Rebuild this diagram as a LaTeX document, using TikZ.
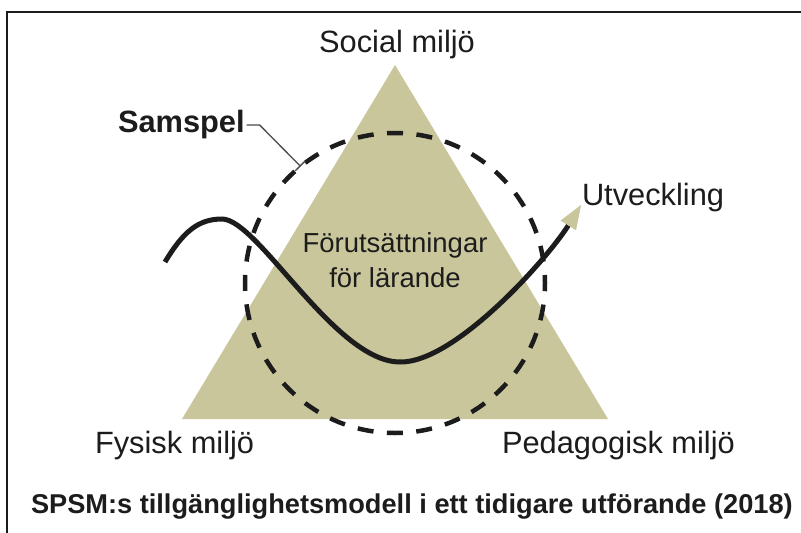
\documentclass[tikz,border=0pt]{standalone}
\usepackage{fontspec}
\setmainfont{Liberation Sans}
\usetikzlibrary{arrows.meta}
\definecolor{khaki}{RGB}{201,198,156}
\definecolor{ink}{RGB}{28,28,28}
\begin{document}
\begin{tikzpicture}[x=1pt,y=-1pt,
  lbl/.style={inner sep=0pt, outer sep=0pt, text=ink, font=\fontsize{30.8}{36}\selectfont},
  inner/.style={inner sep=0pt, outer sep=0pt, text=ink, font=\fontsize{27.5}{33}\selectfont},
  captxt/.style={inner sep=0pt, outer sep=0pt, text=ink, font=\fontsize{27.2}{32}\selectfont\bfseries},
  ringstyle/.style={circle, draw=ink, line width=4.5pt, minimum size=300pt, inner sep=0pt, outer sep=0pt,
     dash pattern=on 16pt off 13.45pt, dash phase=8pt},
  leader/.style={draw=ink!80, line width=1.3pt, -{Bar[width=14pt, line width=1.3pt]}},
  wave/.style={draw=ink, line width=5pt, line cap=butt,
     -{Triangle[length=24pt, width=18pt, color=khaki, line width=0.5pt]}}]
\useasboundingbox (0,0) rectangle (801,533);
\fill[white] (0,0) rectangle (801,533);
% frame
\draw[ink, line width=2pt] (7,534) -- (7,12) -- (802,12);
% triangle
\fill[khaki] (395,65) -- (182,419) -- (608,419) -- cycle;
% labels
\node[lbl, anchor=base] (social) at (397,52) {Social miljö};
\node[lbl, anchor=base west, font=\fontsize{30.8}{36}\selectfont\bfseries] (samspel) at (118,132) {Samspel};
\node[lbl, anchor=base west] (utv) at (582,205) {Utveckling};
\node[inner, anchor=base] (forut) at (395,252) {Förutsättningar};
\node[inner, anchor=base] (forlar) at (395,287) {för lärande};
\node[lbl, anchor=base west] (fysisk) at (95,453) {Fysisk miljö};
\node[lbl, anchor=base west] (ped) at (502,453) {Pedagogisk miljö};
\node[captxt, anchor=base west] (caption) at (31,513) {SPSM:s tillgänglighetsmodell i ett tidigare utförande (2018)};
% dashed ring
\node[ringstyle] (ring) at (395,283) {};
% leader from Samspel to ring
\draw[leader] ([xshift=2pt,yshift=-1pt]samspel.east) -- ++(13,0) -- (ring.129);
% development curve
\coordinate (wstart) at (165,262);
\coordinate (wtip) at (581,205);
\draw[wave] (wstart) .. controls (183,232) and (198,219) .. (222,219)
   .. controls (258,219) and (335,362) .. (400,362)
   .. controls (455,363) and (548,258) .. (wtip);
\end{tikzpicture}
\end{document}
